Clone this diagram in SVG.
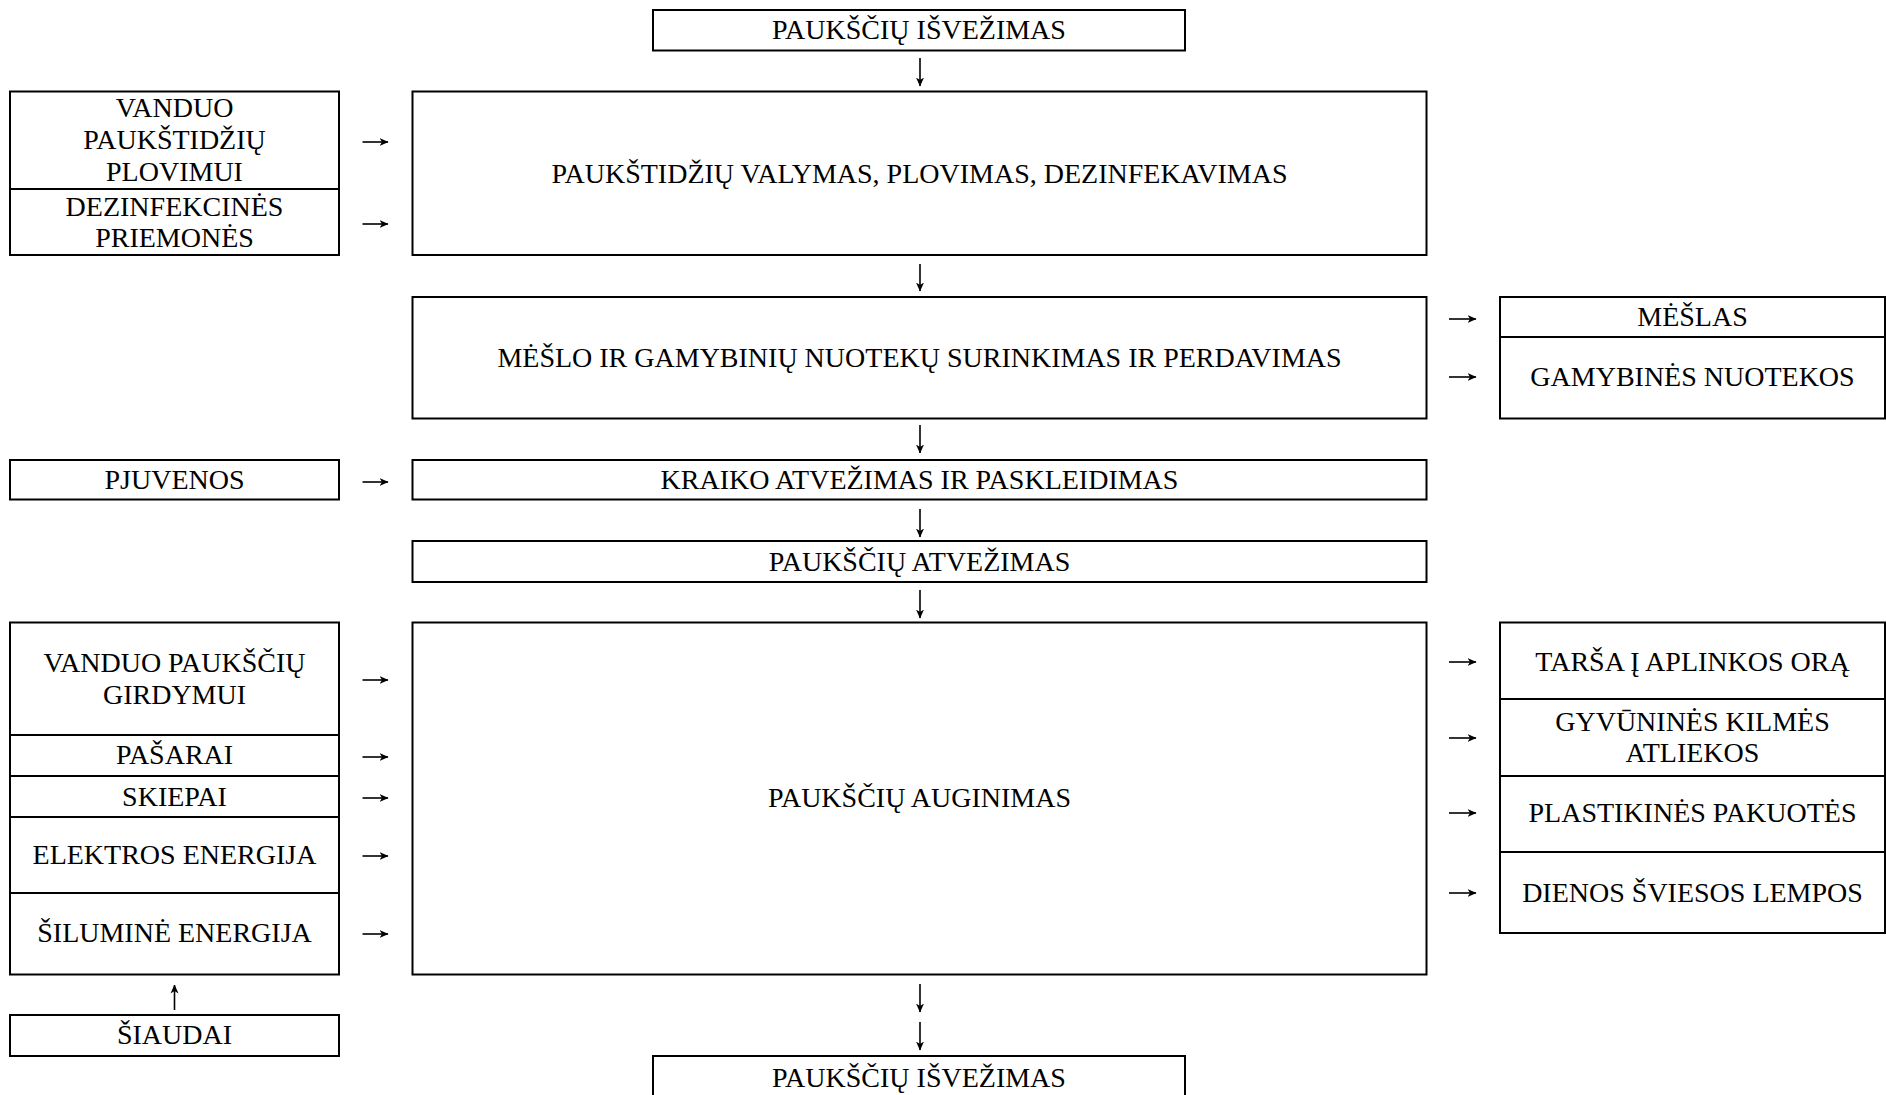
<svg xmlns="http://www.w3.org/2000/svg" width="1886" height="1095" viewBox="0 0 1886 1095">
<defs>
<style>
rect.b{fill:#fff;stroke:#000;stroke-width:2}
text{font-family:"Liberation Serif","Times New Roman",serif;font-size:28px;fill:#000;text-anchor:middle}
.c line{stroke:#000;stroke-width:1.6;fill:none}
</style>
<marker id="ah" viewBox="0 0 9 9" refX="8.5" refY="4.5" markerWidth="9" markerHeight="9" markerUnits="userSpaceOnUse" orient="auto">
<path d="M0,0.5 L9,4.5 L0,8.5 L2.5,4.5 z" fill="#000"/>
</marker>
</defs>
<rect width="1886" height="1095" fill="#fff"/>

<g id="n_isvezimas_top"><rect class="b" x="653" y="10" width="532" height="40.5"/><text x="919" y="38.5">PAUKŠČIŲ IŠVEŽIMAS</text></g>

<g id="n_valymas"><rect class="b" x="412.5" y="91.5" width="1014" height="163.5"/><text x="919.5" y="182.5">PAUKŠTIDŽIŲ VALYMAS, PLOVIMAS, DEZINFEKAVIMAS</text></g>
<g id="n_vanduo_plovimui"><rect class="b" x="10" y="91.5" width="329" height="97.5"/><text x="174.5" y="116.5">VANDUO</text><text x="174.5" y="148.5">PAUKŠTIDŽIŲ</text><text x="174.5" y="180.5">PLOVIMUI</text></g>
<g id="n_dezinfekcines"><rect class="b" x="10" y="189" width="329" height="66"/><text x="174.5" y="215.5">DEZINFEKCINĖS</text><text x="174.5" y="246.5">PRIEMONĖS</text></g>

<g id="n_meslo"><rect class="b" x="412.5" y="297" width="1014" height="121.5"/><text x="919.5" y="366.5">MĖŠLO IR GAMYBINIŲ NUOTEKŲ SURINKIMAS IR PERDAVIMAS</text></g>
<g id="n_meslas"><rect class="b" x="1500" y="297" width="385" height="40"/><text x="1692.5" y="325.5">MĖŠLAS</text></g>
<g id="n_nuotekos"><rect class="b" x="1500" y="337" width="385" height="81.5"/><text x="1692.5" y="385.5">GAMYBINĖS NUOTEKOS</text></g>

<g id="n_pjuvenos"><rect class="b" x="10" y="460" width="329" height="39.5"/><text x="174.5" y="488.5">PJUVENOS</text></g>
<g id="n_kraiko"><rect class="b" x="412.5" y="460" width="1014" height="39.5"/><text x="919.5" y="488.5">KRAIKO ATVEŽIMAS IR PASKLEIDIMAS</text></g>

<g id="n_atvezimas"><rect class="b" x="412.5" y="541" width="1014" height="41"/><text x="919.5" y="570.5">PAUKŠČIŲ ATVEŽIMAS</text></g>

<g id="n_auginimas"><rect class="b" x="412.5" y="622.5" width="1014" height="352"/><text x="919.5" y="806.5">PAUKŠČIŲ AUGINIMAS</text></g>
<g id="n_girdymui"><rect class="b" x="10" y="622.5" width="329" height="112.5"/><text x="174.5" y="671.5">VANDUO PAUKŠČIŲ</text><text x="174.5" y="703.5">GIRDYMUI</text></g>
<g id="n_pasarai"><rect class="b" x="10" y="735" width="329" height="41"/><text x="174.5" y="763.5">PAŠARAI</text></g>
<g id="n_skiepai"><rect class="b" x="10" y="776" width="329" height="41"/><text x="174.5" y="805.5">SKIEPAI</text></g>
<g id="n_elektros"><rect class="b" x="10" y="817" width="329" height="76"/><text x="174.5" y="863.5">ELEKTROS ENERGIJA</text></g>
<g id="n_silumine"><rect class="b" x="10" y="893" width="329" height="81.5"/><text x="174.5" y="941.5">ŠILUMINĖ ENERGIJA</text></g>
<g id="n_siaudai"><rect class="b" x="10" y="1015" width="329" height="41"/><text x="174.5" y="1043.5">ŠIAUDAI</text></g>

<g id="n_tarsa"><rect class="b" x="1500" y="622.5" width="385" height="76.5"/><text x="1692.5" y="670.5">TARŠA Į APLINKOS ORĄ</text></g>
<g id="n_gyvunines"><rect class="b" x="1500" y="699" width="385" height="77"/><text x="1692.5" y="730.5">GYVŪNINĖS KILMĖS</text><text x="1692.5" y="761.5">ATLIEKOS</text></g>
<g id="n_plastikines"><rect class="b" x="1500" y="776" width="385" height="76"/><text x="1692.5" y="821.5">PLASTIKINĖS PAKUOTĖS</text></g>
<g id="n_lempos"><rect class="b" x="1500" y="852" width="385" height="81"/><text x="1692.5" y="901.5">DIENOS ŠVIESOS LEMPOS</text></g>

<g id="n_isvezimas_bottom"><rect class="b" x="653" y="1056" width="532" height="60"/><text x="919" y="1086.5">PAUKŠČIŲ IŠVEŽIMAS</text></g>

<g id="connectors" class="c">
<line x1="920" y1="58" x2="920" y2="86" marker-end="url(#ah)"/>
<line x1="920" y1="264" x2="920" y2="291" marker-end="url(#ah)"/>
<line x1="920" y1="425" x2="920" y2="453" marker-end="url(#ah)"/>
<line x1="920" y1="509" x2="920" y2="537" marker-end="url(#ah)"/>
<line x1="920" y1="590" x2="920" y2="618" marker-end="url(#ah)"/>
<line x1="920" y1="984" x2="920" y2="1012" marker-end="url(#ah)"/>
<line x1="920" y1="1022" x2="920" y2="1050" marker-end="url(#ah)"/>
<line x1="174.5" y1="1010" x2="174.5" y2="985" marker-end="url(#ah)"/>
<line x1="362.5" y1="142" x2="388" y2="142" marker-end="url(#ah)"/>
<line x1="362.5" y1="224" x2="388" y2="224" marker-end="url(#ah)"/>
<line x1="362.5" y1="482" x2="388" y2="482" marker-end="url(#ah)"/>
<line x1="362.5" y1="680" x2="388" y2="680" marker-end="url(#ah)"/>
<line x1="362.5" y1="757" x2="388" y2="757" marker-end="url(#ah)"/>
<line x1="362.5" y1="798" x2="388" y2="798" marker-end="url(#ah)"/>
<line x1="362.5" y1="856" x2="388" y2="856" marker-end="url(#ah)"/>
<line x1="362.5" y1="934" x2="388" y2="934" marker-end="url(#ah)"/>
<line x1="1449" y1="319" x2="1476" y2="319" marker-end="url(#ah)"/>
<line x1="1449" y1="377" x2="1476" y2="377" marker-end="url(#ah)"/>
<line x1="1449" y1="662" x2="1476" y2="662" marker-end="url(#ah)"/>
<line x1="1449" y1="738" x2="1476" y2="738" marker-end="url(#ah)"/>
<line x1="1449" y1="813" x2="1476" y2="813" marker-end="url(#ah)"/>
<line x1="1449" y1="893" x2="1476" y2="893" marker-end="url(#ah)"/>
</g>
</svg>
